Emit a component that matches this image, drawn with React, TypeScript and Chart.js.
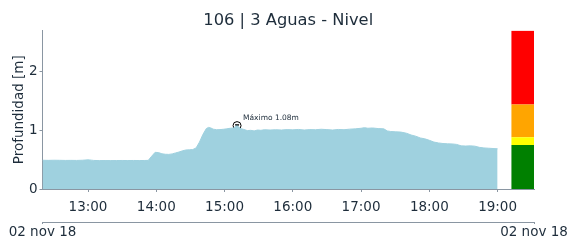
import React, { useEffect, useRef } from 'react';
import { Chart, registerables } from 'chart.js';

Chart.register(...registerables);

const titleText = '106 | 3 Aguas - Nivel';
const yAxisLabel = 'Profundidad [m]';
const dateLabel = '02 nov 18';
const maxLabel = 'Máximo 1.08m';

// minutes since midnight
const hourTicks = [780, 840, 900, 960, 1020, 1080, 1140];
const hourLabels = ['13:00', '14:00', '15:00', '16:00', '17:00', '18:00', '19:00'];
const yTicks = [0, 1, 2];
const xMin = 740;
const xMax = 1172;
const yMax = 2.7;

const times = [
  740, 745, 750, 755, 760, 765, 770, 775, 780, 783, 785, 790, 795, 800, 805, 810, 815, 820, 825, 830,
  833, 836, 839, 842, 845, 848, 851, 854, 857, 860, 863, 866, 869, 872, 875, 878, 881, 884, 886, 888,
  890, 893, 896, 899, 902, 905, 908, 911, 914, 917, 920, 923, 926, 929, 932, 935, 940, 945, 950, 955,
  960, 965, 970, 975, 980, 985, 990, 995, 1000, 1005, 1010, 1015, 1020, 1023, 1026, 1030, 1035, 1040,
  1043, 1046, 1050, 1055, 1060, 1064, 1068, 1072, 1076, 1080, 1084, 1088, 1092, 1096, 1100, 1104, 1108,
  1112, 1116, 1120, 1124, 1128, 1132, 1136, 1140,
];
const levels = [
  0.49, 0.488, 0.49, 0.489, 0.487, 0.488, 0.487, 0.49, 0.497, 0.492, 0.487, 0.484, 0.485, 0.484, 0.485, 0.486, 0.485, 0.486, 0.485, 0.486,
  0.488, 0.56, 0.625, 0.62, 0.6, 0.592, 0.59, 0.598, 0.615, 0.63, 0.65, 0.665, 0.668, 0.672, 0.7, 0.8, 0.93, 1.03, 1.05, 1.04,
  1.02, 1.01, 1.012, 1.018, 1.025, 1.035, 1.04, 1.08, 1.03, 1.015, 0.995, 1.0, 0.99, 1.005, 1.0, 1.01, 1.005, 1.01, 1.005, 1.012,
  1.008, 1.015, 1.005, 1.012, 1.01, 1.018, 1.012, 1.005, 1.015, 1.01, 1.02, 1.025, 1.035, 1.045, 1.035, 1.04, 1.03, 1.025,
  0.99, 0.98, 0.975, 0.97, 0.95, 0.92, 0.9, 0.87, 0.855, 0.83, 0.8, 0.785, 0.775, 0.77, 0.768, 0.76, 0.735,
  0.732, 0.735, 0.73, 0.71, 0.7, 0.695, 0.69, 0.685,
];

const maxTime = 911;
const maxLevel = 1.08;

const alertStart = 1152;
const alertEnd = 1172;
const alertLevels = [0.75, 0.88, 1.44, 2.7];
const alertColors = ['#008000', '#ffff00', '#ffa500', '#ff0000'];

const fillColor = '#9fd1df';
const textColor = '#1e2d3b';
const axisColor = '#8a96a2';
const fontFamily = '"DejaVu Sans", sans-serif';

export default function App() {
  const ref = useRef<HTMLCanvasElement | null>(null);

  useEffect(() => {
    if (!ref.current) return;
    Chart.defaults.font.family = fontFamily;

    const alertSets = alertLevels.map((lv, i) => ({
      type: 'line' as const,
      data: [
        { x: alertStart, y: lv },
        { x: alertEnd, y: lv },
      ],
      fill: i === 0 ? 'origin' : '-1',
      backgroundColor: alertColors[i],
      borderColor: alertColors[i],
      borderWidth: 0,
      pointRadius: 0,
    }));

    const maxLabelPlugin = {
      id: 'maxLabel',
      afterDatasetsDraw(chart: any) {
        const meta = chart.getDatasetMeta(chart.data.datasets.length - 1);
        const pt = meta.data[0];
        if (!pt) return;
        const ctx = chart.ctx;
        ctx.save();
        ctx.font = '7.5px ' + fontFamily;
        ctx.fillStyle = textColor;
        ctx.textBaseline = 'middle';
        ctx.textAlign = 'left';
        ctx.fillText(maxLabel, pt.x + 6, pt.y - 8);
        ctx.restore();
      },
    };

    const chart = new Chart(ref.current, {
      type: 'line',
      data: {
        datasets: [
          {
            data: times.map((t, i) => ({ x: t, y: levels[i] })),
            fill: 'origin',
            backgroundColor: fillColor,
            borderColor: fillColor,
            borderWidth: 1,
            pointRadius: 0,
            tension: 0,
          },
          ...alertSets,
          {
            data: [{ x: maxTime, y: maxLevel }],
            showLine: false,
            pointStyle: 'triangle',
            rotation: 180,
            pointRadius: 2.6,
            backgroundColor: '#000000',
            borderColor: '#000000',
            borderWidth: 0,
          },
          {
            data: [{ x: maxTime, y: maxLevel }],
            showLine: false,
            pointStyle: 'circle',
            pointRadius: 4,
            backgroundColor: '#ffffff',
            borderColor: '#000000',
            borderWidth: 1,
          },
        ] as any,
      },
      options: {
        responsive: false,
        animation: false,
        events: [],
        layout: { padding: { left: 0, right: 35, top: 0, bottom: 0 } },
        plugins: {
          legend: { display: false },
          tooltip: { enabled: false },
          title: {
            display: true,
            fullSize: false,
            text: titleText,
            color: textColor,
            font: { size: 16.3, weight: 'normal' },
            padding: { top: 11, bottom: 0 },
          },
        },
        scales: {
          x: {
            type: 'linear',
            position: 'bottom',
            weight: 0,
            min: xMin,
            max: xMax,
            afterBuildTicks: (s: any) => {
              s.ticks = hourTicks.map((v) => ({ value: v }));
            },
            ticks: {
              callback: (_v: any, i: number) => hourLabels[i],
              color: textColor,
              font: { size: 13.5 },
              padding: 7,
              maxRotation: 0,
              autoSkip: false,
            },
            grid: { display: true, drawOnChartArea: false, tickLength: 3, color: axisColor },
            border: { display: true, color: axisColor, width: 1 },
            afterFit: (s: any) => {
              s.height = 33;
              s.paddingLeft = 0;
              s.paddingRight = 0;
            },
          },
          x2: {
            type: 'linear',
            position: 'bottom',
            weight: 1,
            min: xMin,
            max: xMax,
            afterBuildTicks: (s: any) => {
              s.ticks = [{ value: xMin }, { value: xMax }];
            },
            ticks: {
              callback: () => dateLabel,
              color: textColor,
              font: { size: 13.5 },
              padding: 0,
              maxRotation: 0,
              autoSkip: false,
            },
            grid: { display: true, drawOnChartArea: false, tickLength: 2, color: axisColor },
            border: { display: true, color: axisColor, width: 1 },
            afterFit: (s: any) => {
              s.height = 19;
              s.paddingLeft = 0;
              s.paddingRight = 0;
            },
          },
          y: {
            type: 'linear',
            min: 0,
            max: yMax,
            afterBuildTicks: (s: any) => {
              s.ticks = yTicks.map((v) => ({ value: v }));
            },
            ticks: {
              color: textColor,
              font: { size: 13.5 },
              padding: 2,
            },
            grid: { display: true, drawOnChartArea: false, tickLength: 3, color: axisColor },
            border: { display: true, color: axisColor, width: 1 },
            title: {
              display: true,
              text: yAxisLabel,
              color: textColor,
              font: { size: 13.5 },
              padding: { top: 11, bottom: 0 },
            },
            afterFit: (s: any) => {
              s.width = 42.5;
              s.paddingTop = 0;
              s.paddingBottom = 0;
            },
          },
        },
      } as any,
      plugins: [maxLabelPlugin],
    });

    return () => chart.destroy();
  }, []);

  return (
    <div style={{ position: 'fixed', left: 0, top: 0, width: 569, height: 241, background: '#ffffff' }}>
      <canvas ref={ref} width={569} height={241} style={{ display: 'block' }} />
    </div>
  );
}
